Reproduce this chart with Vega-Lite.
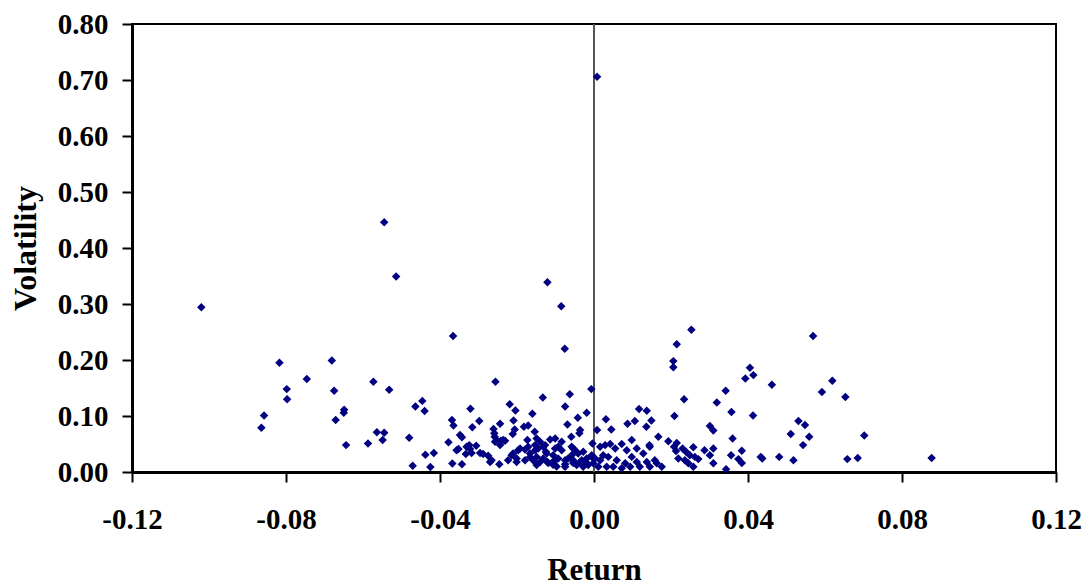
{
  "$schema": "https://vega.github.io/schema/vega-lite/v6.json",
  "autosize": "none",
  "width": 924,
  "height": 448,
  "padding": {"left": 132, "top": 24, "right": 31, "bottom": 115},
  "background": "white",
  "config": {
    "view": {"stroke": "black", "strokeWidth": 2},
    "font": "Liberation Serif"
  },
  "data": {
    "values": [
      {"r": -0.1020, "v": 0.294}, {"r": -0.0817, "v": 0.195}, {"r": -0.0681, "v": 0.199}, {"r": -0.0746, "v": 0.166},
      {"r": -0.0798, "v": 0.148}, {"r": -0.0797, "v": 0.130}, {"r": -0.0857, "v": 0.101}, {"r": -0.0864, "v": 0.079},
      {"r": -0.0675, "v": 0.145}, {"r": -0.0649, "v": 0.111}, {"r": -0.0650, "v": 0.106}, {"r": -0.0671, "v": 0.093},
      {"r": -0.0644, "v": 0.048}, {"r": -0.0573, "v": 0.161}, {"r": -0.0532, "v": 0.147}, {"r": -0.0587, "v": 0.051},
      {"r": -0.0564, "v": 0.071}, {"r": -0.0545, "v": 0.070}, {"r": -0.0549, "v": 0.057}, {"r": -0.0480, "v": 0.061},
      {"r": -0.0464, "v": 0.117}, {"r": -0.0446, "v": 0.127}, {"r": -0.0440, "v": 0.109}, {"r": -0.0438, "v": 0.031},
      {"r": -0.0416, "v": 0.034}, {"r": -0.0471, "v": 0.011}, {"r": -0.0425, "v": 0.009}, {"r": -0.0545, "v": 0.446},
      {"r": -0.0514, "v": 0.349}, {"r": -0.0121, "v": 0.339}, {"r": -0.0085, "v": 0.296}, {"r": -0.0366, "v": 0.243},
      {"r": -0.0076, "v": 0.220}, {"r": -0.0256, "v": 0.161}, {"r": 0.0008, "v": 0.706}, {"r": 0.0253, "v": 0.254},
      {"r": 0.0215, "v": 0.228}, {"r": 0.0206, "v": 0.198}, {"r": 0.0206, "v": 0.187}, {"r": 0.0569, "v": 0.243},
      {"r": 0.0405, "v": 0.186}, {"r": 0.0414, "v": 0.173}, {"r": 0.0393, "v": 0.167}, {"r": 0.0619, "v": 0.163},
      {"r": 0.0462, "v": 0.156}, {"r": 0.0592, "v": 0.143}, {"r": 0.0653, "v": 0.134}, {"r": 0.0413, "v": 0.101},
      {"r": 0.0531, "v": 0.091}, {"r": 0.0548, "v": 0.084}, {"r": 0.0511, "v": 0.068}, {"r": 0.0559, "v": 0.063},
      {"r": 0.0543, "v": 0.048}, {"r": 0.0702, "v": 0.065}, {"r": 0.0384, "v": 0.038}, {"r": 0.0384, "v": 0.016},
      {"r": 0.0433, "v": 0.027}, {"r": 0.0437, "v": 0.024}, {"r": 0.0481, "v": 0.027}, {"r": 0.0518, "v": 0.021},
      {"r": 0.0658, "v": 0.023}, {"r": 0.0685, "v": 0.025}, {"r": 0.0877, "v": 0.025},
      {"r": -0.0007, "v": 0.148}, {"r": -0.0063, "v": 0.139}, {"r": -0.0133, "v": 0.133}, {"r": -0.0219, "v": 0.121},
      {"r": -0.0075, "v": 0.117}, {"r": -0.0321, "v": 0.113}, {"r": -0.0204, "v": 0.110}, {"r": -0.0019, "v": 0.106},
      {"r": -0.0160, "v": 0.104}, {"r": -0.0042, "v": 0.097}, {"r": -0.0369, "v": 0.093}, {"r": -0.0298, "v": 0.091},
      {"r": -0.0209, "v": 0.092}, {"r": -0.0365, "v": 0.083}, {"r": -0.0316, "v": 0.080}, {"r": -0.0244, "v": 0.086},
      {"r": -0.0182, "v": 0.081}, {"r": -0.0171, "v": 0.083}, {"r": -0.0069, "v": 0.085}, {"r": -0.0261, "v": 0.077},
      {"r": -0.0206, "v": 0.076}, {"r": -0.0036, "v": 0.075}, {"r": 0.0008, "v": 0.075}, {"r": -0.0154, "v": 0.072},
      {"r": -0.0348, "v": 0.066}, {"r": -0.0343, "v": 0.062}, {"r": -0.0258, "v": 0.063}, {"r": -0.0059, "v": 0.063},
      {"r": -0.0378, "v": 0.053}, {"r": -0.0253, "v": 0.057}, {"r": -0.0242, "v": 0.056}, {"r": -0.0231, "v": 0.056},
      {"r": -0.0114, "v": 0.058}, {"r": -0.0101, "v": 0.060}, {"r": -0.0173, "v": 0.057}, {"r": -0.0004, "v": 0.051},
      {"r": -0.0324, "v": 0.048}, {"r": -0.0306, "v": 0.047}, {"r": -0.0352, "v": 0.041}, {"r": -0.0192, "v": 0.042},
      {"r": -0.0179, "v": 0.040}, {"r": -0.0145, "v": 0.042}, {"r": -0.0132, "v": 0.045}, {"r": -0.0125, "v": 0.036},
      {"r": -0.0093, "v": 0.045}, {"r": -0.0084, "v": 0.039}, {"r": -0.0058, "v": 0.045}, {"r": -0.0049, "v": 0.039},
      {"r": -0.0288, "v": 0.032}, {"r": -0.0275, "v": 0.029}, {"r": -0.0266, "v": 0.021}, {"r": -0.0333, "v": 0.032},
      {"r": -0.0214, "v": 0.030}, {"r": -0.0201, "v": 0.024}, {"r": -0.0166, "v": 0.027}, {"r": -0.0149, "v": 0.027},
      {"r": -0.0140, "v": 0.018}, {"r": -0.0121, "v": 0.018}, {"r": -0.0106, "v": 0.013}, {"r": -0.0101, "v": 0.021},
      {"r": -0.0067, "v": 0.024}, {"r": -0.0054, "v": 0.016}, {"r": -0.0036, "v": 0.018}, {"r": -0.0019, "v": 0.016},
      {"r": -0.0368, "v": 0.015}, {"r": -0.0343, "v": 0.014}, {"r": -0.0246, "v": 0.014}, {"r": -0.0223, "v": 0.021},
      {"r": -0.0075, "v": 0.014}, {"r": -0.0006, "v": 0.030}, {"r": 0.0003, "v": 0.024},
      {"r": -0.0211, "v": 0.068}, {"r": -0.0259, "v": 0.069}, {"r": -0.0236, "v": 0.057}, {"r": -0.0257, "v": 0.054},
      {"r": -0.0244, "v": 0.048}, {"r": -0.0149, "v": 0.060}, {"r": -0.0153, "v": 0.048}, {"r": -0.0171, "v": 0.045},
      {"r": -0.0140, "v": 0.054}, {"r": -0.0127, "v": 0.048}, {"r": -0.0357, "v": 0.039}, {"r": -0.0331, "v": 0.045},
      {"r": -0.0322, "v": 0.041}, {"r": -0.0296, "v": 0.034}, {"r": -0.0318, "v": 0.034}, {"r": -0.0270, "v": 0.018},
      {"r": -0.0210, "v": 0.033}, {"r": -0.0197, "v": 0.039}, {"r": -0.0201, "v": 0.018}, {"r": -0.0179, "v": 0.021},
      {"r": -0.0166, "v": 0.033}, {"r": -0.0153, "v": 0.039}, {"r": -0.0158, "v": 0.021}, {"r": -0.0149, "v": 0.0125},
      {"r": -0.0132, "v": 0.024}, {"r": -0.0123, "v": 0.033}, {"r": -0.0119, "v": 0.016},
      {"r": -0.0084, "v": 0.054}, {"r": -0.0101, "v": 0.042}, {"r": -0.0106, "v": 0.030}, {"r": -0.0093, "v": 0.024},
      {"r": -0.0110, "v": 0.016}, {"r": -0.0097, "v": 0.010}, {"r": -0.0054, "v": 0.042}, {"r": -0.0058, "v": 0.030},
      {"r": -0.0041, "v": 0.033}, {"r": -0.0028, "v": 0.036}, {"r": -0.0054, "v": 0.021}, {"r": -0.0032, "v": 0.021},
      {"r": -0.0019, "v": 0.024}, {"r": -0.0045, "v": 0.0125}, {"r": -0.0028, "v": 0.0095}, {"r": -0.0015, "v": 0.0125},
      {"r": -0.0006, "v": 0.027}, {"r": -0.0002, "v": 0.0155}, {"r": -0.0075, "v": 0.021}, {"r": -0.0075, "v": 0.0095},
      {"r": 0.0016, "v": 0.045}, {"r": 0.0029, "v": 0.048}, {"r": 0.0042, "v": 0.050}, {"r": 0.0055, "v": 0.042},
      {"r": 0.0072, "v": 0.050}, {"r": 0.0085, "v": 0.039}, {"r": 0.0111, "v": 0.042}, {"r": 0.0128, "v": 0.033},
      {"r": 0.0145, "v": 0.045}, {"r": 0.0098, "v": 0.027}, {"r": 0.0111, "v": 0.018}, {"r": 0.0081, "v": 0.0155},
      {"r": 0.0059, "v": 0.021}, {"r": 0.0037, "v": 0.027}, {"r": 0.0024, "v": 0.030}, {"r": 0.0016, "v": 0.021},
      {"r": 0.0011, "v": 0.0095}, {"r": 0.0033, "v": 0.0095}, {"r": 0.0050, "v": 0.0095}, {"r": 0.0072, "v": 0.0065},
      {"r": 0.0094, "v": 0.0095}, {"r": 0.0119, "v": 0.0095}, {"r": 0.0137, "v": 0.018}, {"r": 0.0145, "v": 0.0095},
      {"r": 0.0158, "v": 0.021}, {"r": 0.0163, "v": 0.0155},
      {"r": 0.0031, "v": 0.094}, {"r": 0.0045, "v": 0.076}, {"r": 0.0087, "v": 0.086}, {"r": 0.0106, "v": 0.091},
      {"r": 0.0117, "v": 0.1125}, {"r": 0.0137, "v": 0.1095}, {"r": 0.0149, "v": 0.092}, {"r": 0.0136, "v": 0.081},
      {"r": 0.0098, "v": 0.057}, {"r": 0.0144, "v": 0.048}, {"r": 0.0167, "v": 0.063}, {"r": -0.0038, "v": 0.069},
      {"r": 0.0234, "v": 0.130}, {"r": 0.0209, "v": 0.100}, {"r": 0.0342, "v": 0.145}, {"r": 0.0319, "v": 0.124},
      {"r": 0.0357, "v": 0.107}, {"r": 0.0301, "v": 0.082}, {"r": 0.0310, "v": 0.074}, {"r": 0.0193, "v": 0.055},
      {"r": 0.0215, "v": 0.052}, {"r": 0.0208, "v": 0.045}, {"r": 0.0213, "v": 0.0375}, {"r": 0.0230, "v": 0.042},
      {"r": 0.0239, "v": 0.036}, {"r": 0.0258, "v": 0.044}, {"r": 0.0249, "v": 0.030}, {"r": 0.0262, "v": 0.027},
      {"r": 0.0236, "v": 0.021}, {"r": 0.0219, "v": 0.024}, {"r": 0.0245, "v": 0.0155}, {"r": 0.0258, "v": 0.0095},
      {"r": 0.0271, "v": 0.023}, {"r": 0.0287, "v": 0.039}, {"r": 0.0310, "v": 0.042}, {"r": 0.0301, "v": 0.030},
      {"r": 0.0310, "v": 0.0155}, {"r": 0.0360, "v": 0.060}, {"r": 0.0356, "v": 0.030}, {"r": 0.0375, "v": 0.023},
      {"r": 0.0343, "v": 0.005}, {"r": 0.0176, "v": 0.0095}
    ]
  },
  "layer": [
    {
      "mark": {"type": "rule", "color": "#555555", "strokeWidth": 1.2},
      "encoding": {"x": {"datum": 0, "type": "quantitative"}}
    },
    {
      "mark": {"type": "point", "shape": "diamond", "filled": true, "size": 72, "color": "#000080", "opacity": 1},
      "encoding": {
        "x": {
          "field": "r",
          "type": "quantitative",
          "title": "Return",
          "scale": {"domain": [-0.12, 0.12], "nice": false, "zero": false},
          "axis": {
            "values": [-0.12, -0.08, -0.04, 0, 0.04, 0.08, 0.12],
            "labelExpr": "replace(format(datum.value, '.2f'), '\u2212', '-')",
            "grid": false,
            "domainColor": "black",
            "domainWidth": 3,
            "tickColor": "black",
            "tickWidth": 2,
            "tickSize": 10,
            "labelFont": "Liberation Serif",
            "labelFontSize": 29,
            "labelFontWeight": "bold",
            "labelColor": "black",
            "labelBaseline": "alphabetic",
            "labelPadding": 46,
            "labelFlush": false,
            "labelOverlap": false,
            "titleFont": "Liberation Serif",
            "titleFontSize": 31,
            "titleFontWeight": "bold",
            "titleColor": "black",
            "titleBaseline": "alphabetic",
            "titleY": 107
          }
        },
        "y": {
          "field": "v",
          "type": "quantitative",
          "title": "Volatility",
          "scale": {"domain": [0, 0.8], "nice": false},
          "axis": {
            "values": [0, 0.1, 0.2, 0.3, 0.4, 0.5, 0.6, 0.7, 0.8],
            "format": ".2f",
            "grid": false,
            "domainColor": "black",
            "domainWidth": 3,
            "tickColor": "black",
            "tickWidth": 2,
            "tickSize": 10,
            "labelFont": "Liberation Serif",
            "labelFontSize": 29,
            "labelFontWeight": "bold",
            "labelColor": "black",
            "labelPadding": 14,
            "labelFlush": false,
            "labelOverlap": false,
            "titleFont": "Liberation Serif",
            "titleFontSize": 32,
            "titleFontWeight": "bold",
            "titleColor": "black",
            "titleX": -90,
            "titleBaseline": "bottom"
          }
        }
      }
    }
  ]
}
